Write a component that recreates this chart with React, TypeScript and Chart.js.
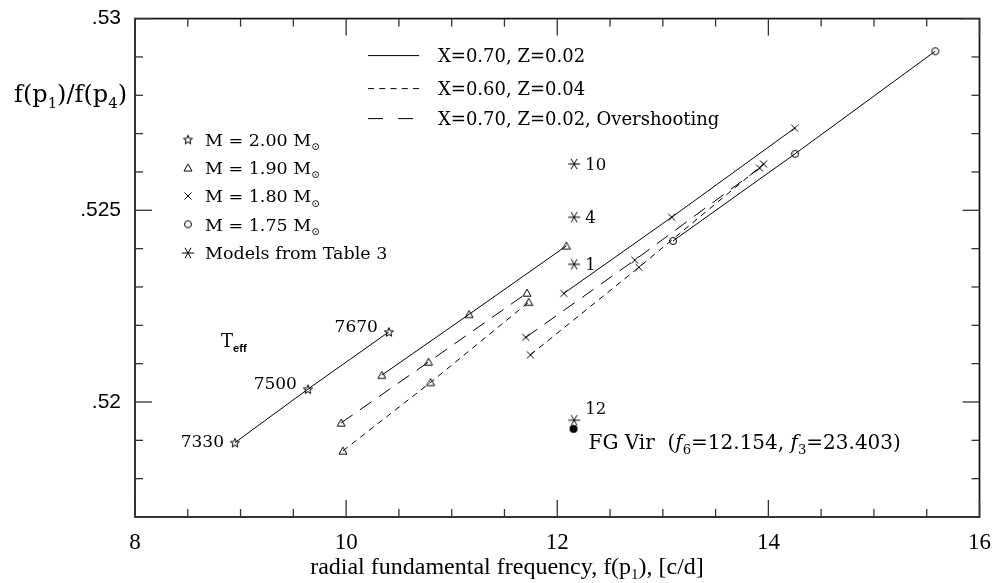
import React, { useEffect, useRef } from "react";
import { Chart, registerables } from "chart.js";

Chart.register(...registerables);

// ---------------- data ----------------
const starX = [8.947, 9.638, 10.405];
const starY = [0.51894, 0.520335, 0.521828];
const starTeff = ["7330", "7500", "7670"];

const triSolidX = [10.338, 11.165, 12.087];
const triSolidY = [0.5207, 0.522286, 0.524072];
const triOverX = [9.953, 10.78, 11.714];
const triOverY = [0.519454, 0.521042, 0.522844];
const triZ04X = [9.97, 10.8, 11.73];
const triZ04Y = [0.518726, 0.52051, 0.522605];

const crossSolidX = [12.062, 13.084, 14.249];
const crossSolidY = [0.522831, 0.524819, 0.527143];
const crossOverX = [11.702, 12.734, 13.917];
const crossOverY = [0.521686, 0.523701, 0.5261];
const crossZ04X = [11.746, 12.774, 13.955];
const crossZ04Y = [0.52123, 0.523514, 0.526208];

const circSolidX = [13.096, 14.253, 15.581];
const circSolidY = [0.5242, 0.526474, 0.52915];

const modelX = [12.16, 12.16, 12.16, 12.16];
const modelY = [0.526208, 0.524819, 0.523591, 0.519524];
const modelLabels = ["10", "4", "1", "12"];

const fgVirX = [12.154];
const fgVirY = [0.5193];

const xTickValues = [8, 10, 12, 14, 16];
const xTickLabels = ["8", "10", "12", "14", "16"];
const yTickValues = [0.52, 0.525, 0.53];
const yTickLabels = [".52", ".525", ".53"];

const lineLegend = ["X=0.70, Z=0.02", "X=0.60, Z=0.04", "X=0.70, Z=0.02, Overshooting"];
const markerLegend = ["2.00", "1.90", "1.80", "1.75"];

// ---------------- styles ----------------
const SERIF = '"DejaVu Serif", serif';
const TIMES = '"Liberation Serif", serif';
const SANS = '"Liberation Sans", sans-serif';
const LONG_DASH = [14, 9];
const SHORT_DASH = [6, 5];

const pts = (xs: number[], ys: number[]) => xs.map((v, i) => ({ x: v, y: ys[i] }));

function mk(size: number, draw: (c: CanvasRenderingContext2D, h: number) => void) {
  const cv = document.createElement("canvas");
  cv.width = size;
  cv.height = size;
  const c = cv.getContext("2d")!;
  c.strokeStyle = "#000";
  c.fillStyle = "#000";
  c.lineWidth = 1;
  draw(c, size / 2);
  return cv;
}

function makeMarkers() {
  const star = mk(12, (c, h) => {
    c.beginPath();
    for (let i = 0; i < 10; i++) {
      const r = i % 2 === 0 ? 4.8 : 2.0;
      const a = -Math.PI / 2 + (i * Math.PI) / 5;
      const px = h + r * Math.cos(a);
      const py = h + 0.5 + r * Math.sin(a);
      if (i === 0) c.moveTo(px, py);
      else c.lineTo(px, py);
    }
    c.closePath();
    c.stroke();
  });
  const tri = mk(12, (c, h) => {
    c.beginPath();
    c.moveTo(h, h - 3.8);
    c.lineTo(h + 4, h + 3.2);
    c.lineTo(h - 4, h + 3.2);
    c.closePath();
    c.stroke();
  });
  const cross = mk(10, (c, h) => {
    c.beginPath();
    c.moveTo(h - 3.5, h - 3.5);
    c.lineTo(h + 3.5, h + 3.5);
    c.moveTo(h + 3.5, h - 3.5);
    c.lineTo(h - 3.5, h + 3.5);
    c.stroke();
  });
  const circ = mk(10, (c, h) => {
    c.beginPath();
    c.arc(h, h, 3.5, 0, Math.PI * 2);
    c.stroke();
  });
  const aster = mk(14, (c, h) => {
    c.beginPath();
    const r = 6;
    for (const deg of [0, 60, 120]) {
      const a = (deg * Math.PI) / 180;
      c.moveTo(h - r * Math.cos(a), h - r * Math.sin(a));
      c.lineTo(h + r * Math.cos(a), h + r * Math.sin(a));
    }
    c.stroke();
  });
  const dot = mk(10, (c, h) => {
    c.beginPath();
    c.arc(h, h, 4, 0, Math.PI * 2);
    c.fill();
  });
  return { star, tri, cross, circ, aster, dot };
}

type Seg = { t: string; sub?: boolean; it?: boolean; bold?: boolean; fam?: string; k?: number };

function drawRich(
  ctx: CanvasRenderingContext2D,
  segs: Seg[],
  x: number,
  cy: number,
  size: number,
  fam: string,
  align: "left" | "right" | "center"
) {
  const fonts = segs.map((s) => {
    const sz = s.sub ? size * (s.k ?? 0.62) : size;
    return `${s.it ? "italic " : ""}${s.bold ? "bold " : ""}${sz}px ${s.fam ?? fam}`;
  });
  const widths = segs.map((s, i) => {
    ctx.font = fonts[i];
    return ctx.measureText(s.t).width;
  });
  const total = widths.reduce((a, b) => a + b, 0);
  let cx = align === "left" ? x : align === "right" ? x - total : x - total / 2;
  const base = cy + size * 0.36;
  ctx.textAlign = "left";
  ctx.textBaseline = "alphabetic";
  ctx.fillStyle = "#000";
  segs.forEach((s, i) => {
    ctx.font = fonts[i];
    ctx.fillText(s.t, cx, base + (s.sub ? size * 0.24 : 0));
    cx += widths[i];
  });
  return total;
}

const isMajorX = (v: number) => xTickValues.some((t) => Math.abs(t - v) < 1e-6);
const isMajorY = (v: number) => yTickValues.some((t) => Math.abs(t - v) < 1e-7);

export default function App() {
  const ref = useRef<HTMLCanvasElement | null>(null);

  useEffect(() => {
    if (!ref.current) return;
    const M = makeMarkers();

    const line = (ctx: CanvasRenderingContext2D, x1: number, y1: number, x2: number, y2: number) => {
      ctx.beginPath();
      ctx.moveTo(x1, y1);
      ctx.lineTo(x2, y2);
      ctx.stroke();
    };

    const annot = {
      id: "annot",
      afterDraw(chart: any) {
        const ctx: CanvasRenderingContext2D = chart.ctx;
        const a = chart.chartArea;
        const xs = chart.scales.x;
        const ys = chart.scales.y;
        ctx.save();
        // frame
        ctx.strokeStyle = "#111";
        ctx.lineWidth = 1.7;
        ctx.setLineDash([]);
        ctx.strokeRect(a.left, a.top, a.right - a.left, a.bottom - a.top);
        // inward ticks
        ctx.lineWidth = 1.3;
        ctx.strokeStyle = "#333";
        xs.ticks.forEach((t: any) => {
          const px = xs.getPixelForValue(t.value);
          const L = isMajorX(t.value) ? 17 : 8;
          line(ctx, px, a.bottom, px, a.bottom - L);
          line(ctx, px, a.top, px, a.top + L);
        });
        ys.ticks.forEach((t: any) => {
          const py = ys.getPixelForValue(t.value);
          const L = isMajorY(t.value) ? 17 : 8;
          line(ctx, a.left, py, a.left + L, py);
          line(ctx, a.right, py, a.right - L, py);
        });

        // axis titles
        drawRich(
          ctx,
          [{ t: "f(p" }, { t: "1", sub: true }, { t: ")/f(p" }, { t: "4", sub: true }, { t: ")" }],
          a.left - 8,
          a.top + 75,
          24,
          SERIF,
          "right"
        );
        drawRich(
          ctx,
          [{ t: "radial fundamental frequency, f(p" }, { t: "1", sub: true }, { t: "), [c/d]" }],
          507,
          565,
          24,
          TIMES,
          "center"
        );

        // line legend
        const lx0 = a.left + 233;
        const lx1 = a.left + 284;
        const lys = [a.top + 37, a.top + 70, a.top + 100];
        const dashes = [[], [6, 5.25], [15, 15]];
        ctx.strokeStyle = "#000";
        ctx.lineWidth = 1;
        lys.forEach((ly, i) => {
          ctx.setLineDash(dashes[i]);
          line(ctx, lx0, ly, lx1, ly);
          ctx.setLineDash([]);
          drawRich(ctx, [{ t: lineLegend[i] }], a.left + 303, ly, 18, SERIF, "left");
        });

        // marker legend
        const mimgs = [M.star, M.tri, M.cross, M.circ];
        const mys = [139.5, 167.8, 196, 224.3, 253];
        mimgs.forEach((img, i) => {
          ctx.drawImage(img, 188 - img.width / 2, mys[i] - img.height / 2);
          drawRich(
            ctx,
            [{ t: "M = " + markerLegend[i] + " M" }, { t: "\u2299", sub: true, k: 0.6 }],
            205,
            mys[i],
            17.5,
            SERIF,
            "left"
          );
        });
        ctx.drawImage(M.aster, 188 - M.aster.width / 2, mys[4] - M.aster.height / 2);
        drawRich(ctx, [{ t: "Models from Table 3" }], 205, mys[4], 17.5, SERIF, "left");

        // Teff label
        drawRich(
          ctx,
          [{ t: "T" }, { t: "eff", sub: true, bold: true, fam: SANS, k: 0.62 }],
          221,
          341,
          18,
          SERIF,
          "left"
        );

        // star Teff labels
        const starDy = [-2, -6, -6.5];
        starTeff.forEach((lab, i) => {
          const px = xs.getPixelForValue(starX[i]);
          const py = ys.getPixelForValue(starY[i]);
          drawRich(ctx, [{ t: lab }], px - 11, py + starDy[i], 17, SERIF, "right");
        });

        // model labels
        modelLabels.forEach((lab, i) => {
          const px = xs.getPixelForValue(modelX[i]);
          const py = ys.getPixelForValue(modelY[i]);
          const dy = lab === "12" ? -12 : 0;
          drawRich(ctx, [{ t: lab }], px + 11, py + dy, 16.5, SERIF, "left");
        });

        // FG Vir label
        {
          const px = xs.getPixelForValue(fgVirX[0]);
          const py = ys.getPixelForValue(fgVirY[0]);
          drawRich(
            ctx,
            [
              { t: "FG Vir  (" },
              { t: "f", it: true },
              { t: "6", sub: true, k: 0.66 },
              { t: "=12.154, " },
              { t: "f", it: true },
              { t: "3", sub: true, k: 0.66 },
              { t: "=23.403)" },
            ],
            px + 15,
            py + 13,
            20,
            SERIF,
            "left"
          );
        }
        ctx.restore();
      },
    };

    const base = {
      showLine: true,
      borderColor: "#000",
      borderWidth: 1,
      pointRadius: 4,
      pointHoverRadius: 4,
      backgroundColor: "#000",
    };

    const chart = new Chart(ref.current, {
      type: "scatter",
      data: {
        datasets: [
          { ...base, label: "M=2.00", data: pts(starX, starY), pointStyle: M.star },
          { ...base, label: "M=1.90 a", data: pts(triSolidX, triSolidY), pointStyle: M.tri },
          { ...base, label: "M=1.90 ov", data: pts(triOverX, triOverY), pointStyle: M.tri, borderDash: LONG_DASH },
          { ...base, label: "M=1.90 z", data: pts(triZ04X, triZ04Y), pointStyle: M.tri, borderDash: SHORT_DASH },
          { ...base, label: "M=1.80 a", data: pts(crossSolidX, crossSolidY), pointStyle: M.cross },
          { ...base, label: "M=1.80 ov", data: pts(crossOverX, crossOverY), pointStyle: M.cross, borderDash: LONG_DASH },
          { ...base, label: "M=1.80 z", data: pts(crossZ04X, crossZ04Y), pointStyle: M.cross, borderDash: SHORT_DASH },
          { ...base, label: "M=1.75", data: pts(circSolidX, circSolidY), pointStyle: M.circ },
          { ...base, showLine: false, label: "Models", data: pts(modelX, modelY), pointStyle: M.aster },
          { ...base, showLine: false, label: "FG Vir", data: pts(fgVirX, fgVirY), pointStyle: M.dot },
        ] as any,
      },
      options: {
        animation: false,
        responsive: false,
        events: [],
        layout: { padding: { left: 0, right: 15, top: 12, bottom: 0 } },
        plugins: { legend: { display: false }, tooltip: { enabled: false } },
        scales: {
          x: {
            type: "linear",
            min: 8,
            max: 16,
            grid: { display: false },
            border: { display: false },
            afterFit: (s: any) => {
              s.height = 66;
            },
            ticks: {
              stepSize: 0.5,
              autoSkip: false,
              maxRotation: 0,
              padding: 4,
              color: "#000",
              font: { family: TIMES, size: 23 },
              callback: (v: any) => {
                const i = xTickValues.findIndex((t) => Math.abs(t - Number(v)) < 1e-6);
                return i >= 0 ? xTickLabels[i] : "";
              },
            },
          },
          y: {
            type: "linear",
            min: 0.517,
            max: 0.53,
            grid: { display: false },
            border: { display: false },
            afterFit: (s: any) => {
              s.width = 135;
            },
            ticks: {
              stepSize: 0.001,
              autoSkip: false,
              padding: 6,
              color: "#000",
              font: { family: SANS, size: 21 },
              callback: (v: any) => {
                const i = yTickValues.findIndex((t) => Math.abs(t - Number(v)) < 1e-7);
                return i >= 0 ? yTickLabels[i] : "";
              },
            },
          },
        },
      },
      plugins: [annot],
    });
    return () => chart.destroy();
  }, []);

  return (
    <div style={{ position: "absolute", left: 0, top: 0, width: 995, height: 583, background: "#fff" }}>
      <canvas ref={ref} width={995} height={583} style={{ width: 995, height: 583, display: "block" }} />
    </div>
  );
}
